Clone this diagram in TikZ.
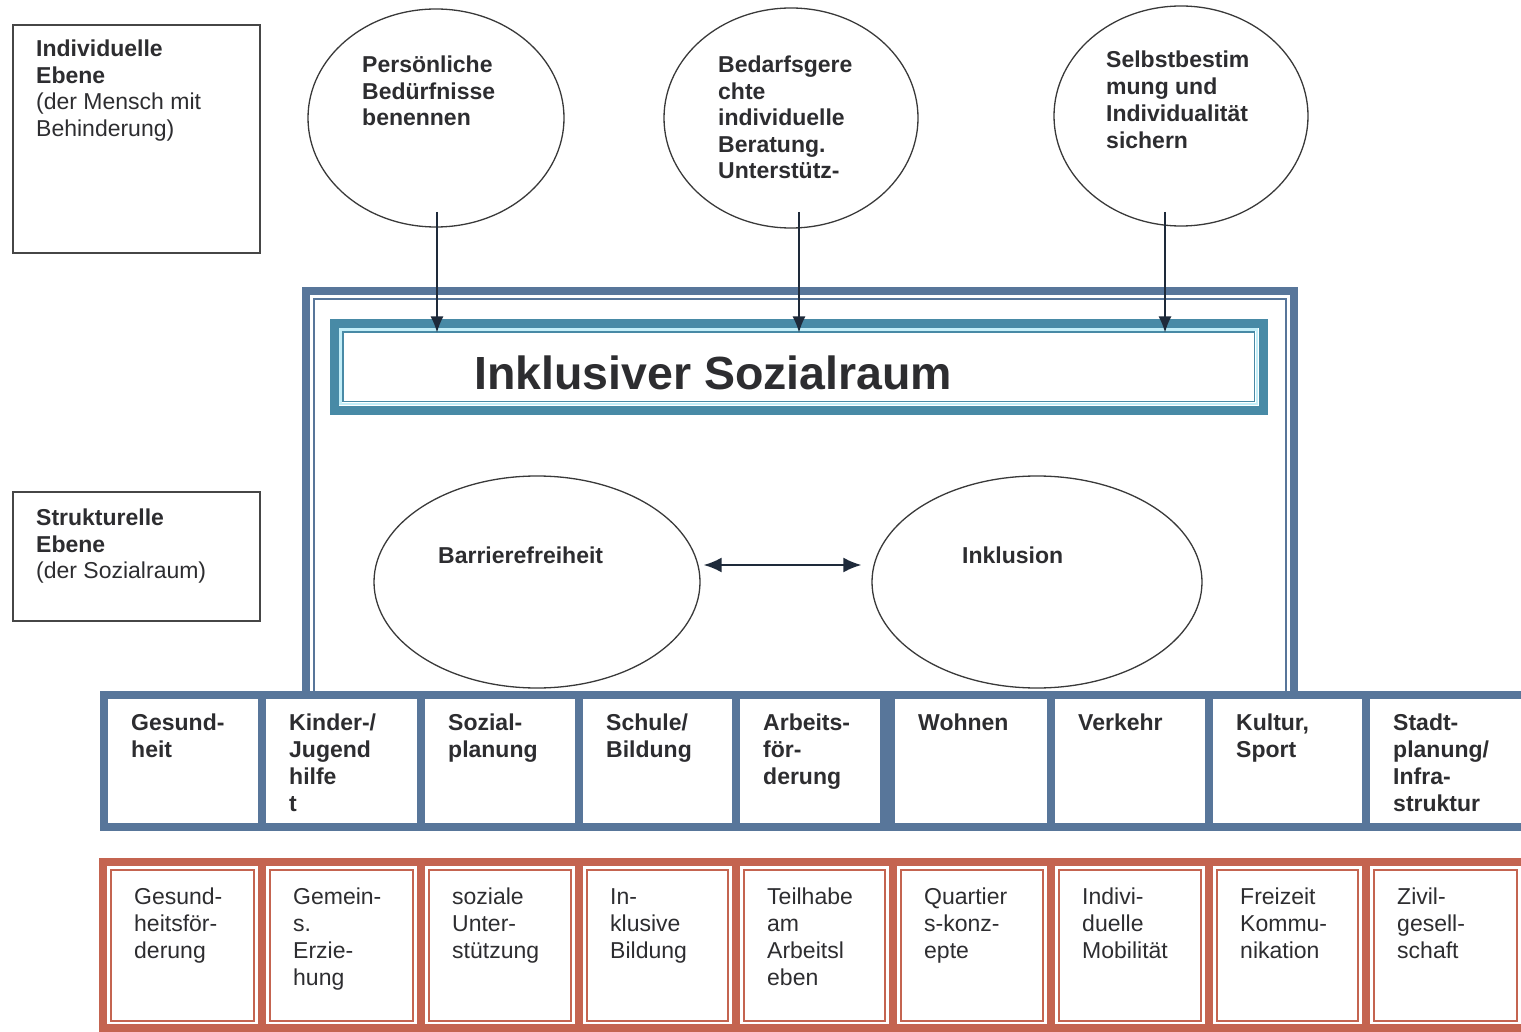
\documentclass[tikz,border=0pt]{standalone}
\usepackage{fontspec}
\setmainfont{Liberation Sans}
\usetikzlibrary{shapes.geometric,arrows.meta,calc}
\definecolor{frameblue}{RGB}{88,118,154}
\definecolor{titleteal}{RGB}{72,138,166}
\definecolor{lightcyan}{RGB}{195,238,248}
\definecolor{rowred}{RGB}{196,100,80}
\definecolor{inkgray}{RGB}{45,45,48}
\definecolor{arrownavy}{RGB}{30,42,58}
\tikzset{>=Latex}

\begin{document}
\begin{tikzpicture}[x=1pt,y=-1pt,
		ell/.style={ellipse,draw=gray!45!black,line width=1.3pt,inner sep=0pt},
		txt/.style={inner sep=0pt,anchor=north west,align=left,text=inkgray,
			font=\fontsize{23}{26.5}\selectfont},
		celltxt/.style={txt,font=\fontsize{23}{27}\selectfont},
		lvlbox/.style={draw=gray!55!black,line width=1.8pt,inner sep=0pt},
		pfeil/.style={-{Latex[length=16pt,width=13pt]},line width=1.5pt,draw=arrownavy},
		bluecell/.style={draw=frameblue,line width=8pt},
		redcell/.style={draw=rowred,line width=8pt},
		redinner/.style={draw=rowred,line width=1.5pt},
	]
	\useasboundingbox (0,0) rectangle (1521,1032);
	
	% Ebenen links
	\node[lvlbox,minimum width=247pt,minimum height=228pt] (indbox) at (136.5,139) {};
	\node[txt] (indtxt) at (36,40) {\bfseries Individuelle\\\bfseries Ebene\\(der Mensch mit\\Behinderung)};
	\node[lvlbox,minimum width=247pt,minimum height=129pt] (strbox) at (136.5,556.5) {};
	\node[txt] (strtxt) at (36,509) {\bfseries Strukturelle\\\bfseries Ebene\\(der Sozialraum)};
	
	% Ellipsen oben
	\node[ell,minimum width=256pt,minimum height=218pt] (e1) at (436,118) {};
	\node[ell,minimum width=254pt,minimum height=220pt] (e2) at (791,118) {};
	\node[ell,minimum width=254pt,minimum height=220pt] (e3) at (1181,116) {};
	\node[txt,font=\fontsize{23}{26.5}\selectfont\bfseries] (t1) at (362,56) {Persönliche\\Bedürfnisse\\benennen};
	\node[txt,font=\fontsize{23}{26.5}\selectfont\bfseries] (t2) at (718,56) {Bedarfsgere\\chte\\individuelle\\Beratung.\\Unterstütz-};
	\node[txt,font=\fontsize{23}{27}\selectfont\bfseries] (t3) at (1106,51) {Selbstbestim\\mung und\\Individualität\\sichern};
	
	% Rahmen Sozialraum
	\draw[frameblue,line width=8.5pt] (306,695) -- (306,291) -- (1294,291) -- (1294,695);
	\draw[frameblue,line width=1.8pt] (314,695) -- (314,299) -- (1286,299) -- (1286,695);
	
	\node[draw=titleteal,line width=9pt,outer sep=0pt,inner sep=0pt,
	minimum width=928.5pt,minimum height=86.5pt] (title) at (798.75,366.75) {};
	\draw[lightcyan,line width=2.5pt] ($(title.north west)+(6,6)$) rectangle ($(title.south east)+(-6,-6)$);
	\draw[titleteal,line width=1.5pt] ($(title.north west)+(8.5,8.5)$) rectangle ($(title.south east)+(-8.5,-8.5)$);
	\node[anchor=west,inner sep=0pt,text=inkgray,font=\fontsize{46.5}{52}\selectfont\bfseries] (titletext) at (474,373) {Inklusiver Sozialraum};
	
	\coordinate (a1) at (437,212);
	\coordinate (a2) at (799,212);
	\coordinate (a3) at (1165,212);
	\foreach \a in {a1,a2,a3}
	\draw[pfeil,shorten >=-9pt] (\a) -- (\a |- title.north);
	
	% Barrierefreiheit / Inklusion
	\node[ell,minimum width=326pt,minimum height=212pt] (bf) at (537,582) {};
	\node[ell,minimum width=330pt,minimum height=212pt] (ink) at (1037,582) {};
	\node[txt,font=\fontsize{23}{26.5}\selectfont\bfseries] (bftxt) at (438,547) {Barrierefreiheit};
	\node[txt,font=\fontsize{23}{26.5}\selectfont\bfseries] (inktxt) at (962,547) {Inklusion};
	\draw[{Latex[length=18pt,width=15pt]}-{Latex[length=18pt,width=15pt]},line width=2pt,draw=arrownavy]
	($(bf.east)+(3,-17)$) -- ($(ink.west)+(-10,-17)$);
	
	% Zeile blau
	\foreach \l/\r/\t [count=\i] in {104/262/{Gesund-\\heit},262/421/{Kinder-/\\Jugend\\hilfe\\t},
		421/579/{Sozial-\\planung},579/736/{Schule/\\Bildung},736/884/{Arbeits-\\för-\\derung},
		891/1051/{Wohnen},1051/1209/{Verkehr},1209/1366/{Kultur,\\Sport},
		1366/1525/{Stadt-\\planung/\\Infra-\\struktur}}
	{
		\draw[bluecell,fill=white] (\l,695) rectangle (\r,827);
		\node[celltxt,font=\fontsize{23}{27}\selectfont\bfseries] (b\i) at (\l+27,714) {\t};
	}
	
	% Zeile rot
	\foreach \l/\r/\t [count=\i] in {103/262/{Gesund-\\heitsför-\\derung},262/421/{Gemein-\\s.\\Erzie-\\hung},
		421/579/{soziale\\Unter-\\stützung},579/736/{In-\\klusive\\Bildung},736/893/{Teilhabe\\am\\Arbeitsl\\eben},
		893/1051/{Quartier\\s-konz-\\epte},1051/1209/{Indivi-\\duelle\\Mobilität},1209/1366/{Freizeit\\Kommu-\\nikation},
		1366/1525/{Zivil-\\gesell-\\schaft}}
	{
		\draw[redcell] (\l,862) rectangle (\r,1028);
		\draw[redinner] (\l+8,870) rectangle (\r-8,1021);
		\node[celltxt] (r\i) at (\l+31,888) {\t};
	}
\end{tikzpicture}
\end{document}
